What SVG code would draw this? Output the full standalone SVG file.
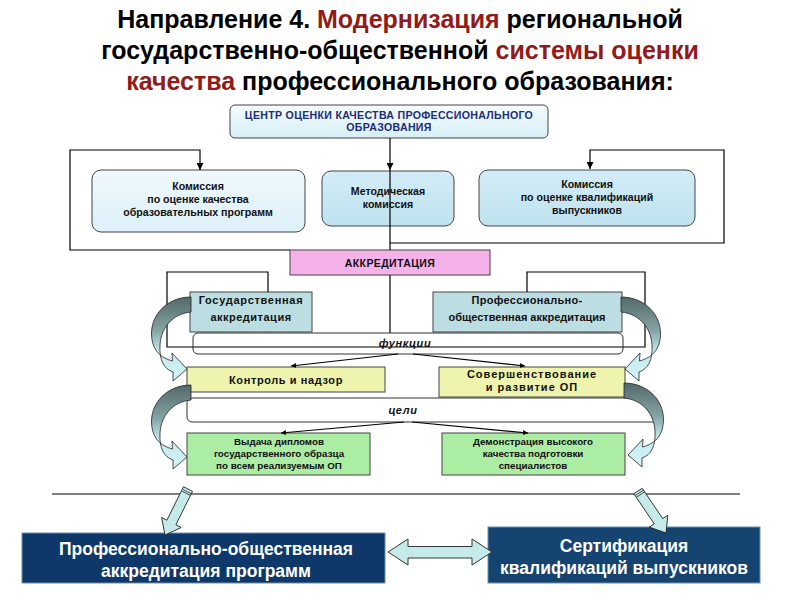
<svg xmlns="http://www.w3.org/2000/svg" width="800" height="600" viewBox="0 0 800 600">
<defs>
  <linearGradient id="gCenter" x1="0" y1="0" x2="0" y2="1">
    <stop offset="0" stop-color="#f4fcfe"/><stop offset="1" stop-color="#d6eff6"/>
  </linearGradient>
  <linearGradient id="gKom1" x1="0" y1="0" x2="0" y2="1">
    <stop offset="0" stop-color="#f0f9fd"/><stop offset="1" stop-color="#dcf0f8"/>
  </linearGradient>
  <linearGradient id="gKom2" x1="0" y1="0" x2="0" y2="1">
    <stop offset="0" stop-color="#d2ecf6"/><stop offset="1" stop-color="#bfe2f0"/>
  </linearGradient>
  <linearGradient id="gCurve" x1="0" y1="0" x2="0" y2="1">
    <stop offset="0" stop-color="#52696a"/>
    <stop offset="0.4" stop-color="#86a4a5"/>
    <stop offset="0.65" stop-color="#c4eaee"/>
    <stop offset="1" stop-color="#d2f3f6"/>
  </linearGradient>
  <marker id="arr" viewBox="0 0 10 10" refX="10" refY="5" markerWidth="7" markerHeight="7" markerUnits="userSpaceOnUse" orient="auto">
    <path d="M0,0 L10,5 L0,10 Z" fill="#000"/>
  </marker>
  <marker id="arrS" viewBox="0 0 10 10" refX="10" refY="5" markerWidth="5" markerHeight="5" markerUnits="userSpaceOnUse" orient="auto">
    <path d="M0,0 L10,5 L0,10 Z" fill="#000"/>
  </marker>
  <path id="curveL" d="M 191 297 C 164 297, 146 320, 153 344 C 156 353, 162 358, 172.5 361 L 172 353 L 187 369 L 173 381 L 173 372 C 164 369, 159 360, 160 345 C 161 328, 172 314, 191 312 Z"/>
</defs>
<style>
  .title { font-family: "Liberation Sans", Arial, sans-serif; font-weight: bold; font-size: 25px; fill: #000; }
  .red { fill: #931a1a; }
  .t { font-family: "Liberation Sans", Arial, sans-serif; font-weight: bold; text-anchor: middle; fill: #111; }
  .navy { fill: #1e2d78; }
  .w { fill: #fff; }
  .ln { fill: none; stroke: #000; stroke-width: 1.2; }
  .box { stroke: #444; stroke-width: 1; }
  .curve { fill: url(#gCurve); stroke: #222; stroke-width: 0.8; }
  .pale { fill: #c4eaea; stroke: #222; stroke-width: 0.9; }
</style>

<g id="title">
  <text class="title" x="400" y="28" text-anchor="middle">Направление 4. <tspan class="red">Модернизация</tspan> региональной</text>
  <text class="title" x="400" y="59" text-anchor="middle">государственно-общественной <tspan class="red">системы оценки</tspan></text>
  <text class="title" x="400" y="90" text-anchor="middle"><tspan class="red">качества</tspan> профессионального образования:</text>
</g>

<g id="center">
  <rect class="box" x="230" y="105" width="318" height="33" rx="5" fill="url(#gCenter)"/>
  <text class="t navy" font-size="10.6" x="389" y="119" letter-spacing="0.3">ЦЕНТР ОЦЕНКИ КАЧЕСТВА  ПРОФЕССИОНАЛЬНОГО</text>
  <text class="t navy" font-size="10.6" x="389" y="131" letter-spacing="0.3">ОБРАЗОВАНИЯ</text>
</g>

<g id="kom1">
  <rect class="box" x="92" y="170" width="213" height="62" rx="9" fill="url(#gKom1)"/>
  <text class="t" font-size="10.6" x="198" y="190">Комиссия</text>
  <text class="t" font-size="10.6" x="198" y="203">по оценке качества</text>
  <text class="t" font-size="10.6" x="198" y="216">образовательных  программ</text>
</g>
<g id="kom2">
  <rect class="box" x="322" y="171" width="132" height="55" rx="9" fill="url(#gKom2)"/>
  <text class="t" font-size="10.6" x="388" y="195">Методическая</text>
  <text class="t" font-size="10.6" x="388" y="208">комиссия</text>
</g>
<g id="kom3">
  <rect class="box" x="479" y="170" width="216" height="56" rx="9" fill="url(#gKom2)"/>
  <text class="t" font-size="10.6" x="587" y="188">Комиссия</text>
  <text class="t" font-size="10.6" x="587" y="201">по оценке квалификаций</text>
  <text class="t" font-size="10.6" x="587" y="214">выпускников</text>
</g>

<g id="akkred">
  <rect class="box" x="290" y="250" width="200" height="25" fill="#f5b2ea"/>
  <text class="t" font-size="10.5" x="390" y="266.5" letter-spacing="0.4">АККРЕДИТАЦИЯ</text>
</g>

<g id="gos">
  <rect class="box" x="190" y="292" width="122" height="40" fill="#bcdee2"/>
  <text class="t" font-size="11" x="251" y="304" letter-spacing="0.7">Государственная</text>
  <text class="t" font-size="11" x="251" y="321" letter-spacing="0.5">аккредитация</text>
</g>
<g id="prof">
  <rect class="box" x="433" y="292" width="189" height="40" fill="#bcdee2"/>
  <text class="t" font-size="11" x="527" y="304" letter-spacing="0.3">Профессионально-</text>
  <text class="t" font-size="11" x="527" y="321">общественная аккредитация</text>
</g>

<g id="funkcii">
  <rect x="193" y="333" width="430" height="21" rx="5" fill="#fff" stroke="#333" stroke-width="1"/>
  <text class="t" font-size="11" font-style="italic" x="405" y="347" letter-spacing="0.6">функции</text>
</g>

<g id="kontrol">
  <rect class="box" x="187" y="367" width="198" height="25" fill="#eef3ad"/>
  <text class="t" font-size="11" x="286" y="384" letter-spacing="0.6">Контроль и надзор</text>
</g>
<g id="sover">
  <rect class="box" x="439" y="367" width="186" height="30" fill="#eef3ad"/>
  <text class="t" font-size="11" x="532" y="378" letter-spacing="1">Совершенствование</text>
  <text class="t" font-size="11" x="532" y="391" letter-spacing="1">и развитие ОП</text>
</g>

<g id="celi">
  <rect x="187" y="398" width="471" height="24" rx="5" fill="#fff" stroke="#333" stroke-width="1"/>
  <text class="t" font-size="11" font-style="italic" x="403" y="414" letter-spacing="0.6">цели</text>
</g>

<g id="vydacha">
  <rect class="box" x="187" y="433" width="183" height="42" fill="#abeda3"/>
  <text class="t" font-size="9.8" x="279" y="445">Выдача дипломов</text>
  <text class="t" font-size="9.8" x="279" y="457">государственного образца</text>
  <text class="t" font-size="9.8" x="279" y="469">по всем реализуемым ОП</text>
</g>
<g id="demo">
  <rect class="box" x="442" y="433" width="183" height="42" fill="#abeda3"/>
  <text class="t" font-size="9.8" x="533" y="445">Демонстрация высокого</text>
  <text class="t" font-size="9.8" x="533" y="457">качества подготовки</text>
  <text class="t" font-size="9.8" x="533" y="469">специалистов</text>
</g>

<g id="bottomLeft">
  <rect x="22" y="533" width="363" height="50" fill="#0f386a" stroke="#6d8fb0" stroke-width="1"/>
  <text class="t w" font-size="17.5" x="206" y="555">Профессионально-общественная</text>
  <text class="t w" font-size="17.5" x="206" y="577">аккредитация программ</text>
</g>
<g id="bottomRight">
  <rect x="488" y="527" width="272" height="56" fill="#164470" stroke="#6d8fb0" stroke-width="1"/>
  <text class="t w" font-size="17.5" x="624" y="552">Сертификация</text>
  <text class="t w" font-size="17.5" x="624" y="574">квалификаций выпускников</text>
</g>

<g id="connectors">
  <line class="ln" x1="390" y1="138" x2="390" y2="170" marker-end="url(#arr)"/>
  <line class="ln" x1="390" y1="170" x2="390" y2="250"/>
  <polyline class="ln" points="290,250 70,250 70,150 200,150 200,170" marker-end="url(#arr)"/>
  <polyline class="ln" points="390,243 724,243 724,150 590,150 590,169" marker-end="url(#arr)"/>
  <line class="ln" x1="390" y1="275" x2="390" y2="333"/>
  <polyline class="ln" points="268,292 268,272 167,272 167,347 645,347 645,272 527,272 527,292"/>
  <line class="ln" x1="398" y1="354" x2="291" y2="366" stroke-width="0.9" marker-end="url(#arrS)"/>
  <line class="ln" x1="413" y1="354" x2="525" y2="366" stroke-width="0.9" marker-end="url(#arrS)"/>
  <line class="ln" x1="404" y1="422" x2="281" y2="433" stroke-width="0.9" marker-end="url(#arrS)"/>
  <line class="ln" x1="412" y1="422" x2="528" y2="433" stroke-width="0.9" marker-end="url(#arrS)"/>
  <line x1="52" y1="494" x2="740" y2="494" stroke="#000" stroke-width="1.2"/>

  <use href="#curveL" class="curve"/>
  <use href="#curveL" class="curve" transform="translate(0,88)"/>
  <use href="#curveL" class="curve" transform="translate(812,0) scale(-1,1)"/>
  <use href="#curveL" class="curve" transform="translate(815,86) scale(-1,1)"/>

  <polygon class="pale" points="183.5,486.7 192.5,491.3 175.9,524.8 181.2,527.5 165,535 161.6,517.5 166.9,520.2"/>
  <g stroke="#222" stroke-width="0.8">
    <line x1="183" y1="489.5" x2="191.5" y2="493.8"/>
    <line x1="182.2" y1="491.3" x2="190.7" y2="495.6"/>
  </g>
  <polygon class="pale" points="642.2,488.3 662.7,518.5 667.8,515.3 666,533 649.2,527.1 654.3,523.9 633.8,493.7"/>
  <g stroke="#222" stroke-width="0.8">
    <line x1="635.4" y1="495.4" x2="643.8" y2="490"/>
    <line x1="636.5" y1="497.1" x2="644.9" y2="491.7"/>
  </g>
  <polygon class="pale" points="388,552 408,539 408,546.5 472,546.5 472,539 492,552 472,565 472,558 408,558 408,565"/>
</g>
</svg>
